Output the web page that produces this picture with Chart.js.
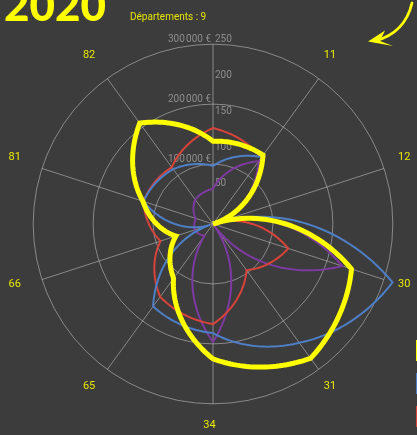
<!DOCTYPE html>
<html>
<head>
<meta charset="utf-8">
<script src="https://cdn.jsdelivr.net/npm/chart.js@4/dist/chart.umd.min.js"></script>
<style>
html, body { margin: 0; padding: 0; background: #3c3c3c; overflow: hidden; width: 417px; height: 435px; }
#wrap { position: absolute; left: 0; top: 0; width: 417px; height: 435px; }
#head { position: absolute; left: 0; top: 0; pointer-events: none; }
#legend { position: absolute; left: 416px; top: 340px; }
#legend div { width: 30px; height: 21px; margin-bottom: 12px; }
</style>
</head>
<body>
<div id="wrap"><canvas id="chart-radar" width="417" height="435"></canvas></div>
<svg id="head" width="417" height="60">
  <text x="4" y="20.5" font-family="Lato, Roboto, sans-serif" font-weight="900" font-size="44" fill="#ffff00">2020</text>
  <text x="130" y="19.5" font-family="Roboto, sans-serif" font-size="10" fill="#e6e600">Départements : 9</text>
  <path d="M412,3 Q405,33 375,41" fill="none" stroke="#ffff00" stroke-width="2.8" stroke-linecap="round"/>
  <polygon points="368,41.5 385,30.5 380,41 393,46" fill="#ffff00"/>
</svg>
<div id="legend"></div>
<script>
// départements (axe du haut sans libellé)
const depts = ['', '11', '12', '30', '31', '34', '65', '66', '81', '82'];

// montants en euros
const serieJaune = [138000, 142000, 0, 243000, 277000, 225000, 112000, 65000, 123000, 208000];
const serieBleue = [97000, 138000, 0, 315000, 245000, 182000, 170000, 5000, 122000, 113000];
const serieRouge = [160000, 137000, 0, 132000, 95000, 167000, 150000, 92000, 122000, 117000];
// nombre
const serieViolette = [49, 108, 0, 189, 0, 164, 20, 27, 25, 42];

const euroTicks = [0, 100000, 200000, 300000];
const countTicks = [0, 50, 100, 150, 200, 250];

const gridColor = 'rgba(200,200,200,0.55)';
const tickColor = '#8e8e8e';
const labelColor = '#e8e800';

function euro(v) {
    return String(v).replace(/\B(?=(\d{3})+(?!\d))/g, '\u202f') + '\u00a0€';
}

// lines drawn with the radius interpolated along the angle
const polarLines = {
    id: 'polarLines',
    beforeDatasetDraw(chart, args) {
        const ds = chart.data.datasets[args.index];
        const scale = chart.scales[ds.rAxisID];
        const ctx = chart.ctx;
        const n = ds.data.length;
        const steps = 30;
        ctx.save();
        ctx.beginPath();
        for (let i = 0; i < n; i++) {
            const d0 = scale.getDistanceFromCenterForValue(ds.data[i]);
            const d1 = scale.getDistanceFromCenterForValue(ds.data[(i + 1) % n]);
            for (let s = 0; s < steps; s++) {
                const t = s / steps;
                const p = scale.getPointPosition(i + t, d0 + (d1 - d0) * t);
                if (i === 0 && s === 0) ctx.moveTo(p.x, p.y);
                else ctx.lineTo(p.x, p.y);
            }
        }
        ctx.closePath();
        ctx.strokeStyle = ds.borderColor;
        ctx.lineWidth = ds.borderWidth;
        ctx.lineJoin = 'miter';
        ctx.stroke();
        ctx.restore();
        return false;
    }
};

// tick texts (euros left of the axis, counts right) and centred department labels
const axisTexts = {
    id: 'axisTexts',
    beforeDatasetsDraw(chart) {
        const ctx = chart.ctx;
        const r = chart.scales.r;
        const r2 = chart.scales.r2;
        ctx.save();
        ctx.font = '10px Roboto';
        ctx.fillStyle = tickColor;
        ctx.textBaseline = 'middle';
        ctx.textAlign = 'right';
        euroTicks.forEach(v => {
            if (v === 0) return;
            ctx.fillText(euro(v), r.xCenter - 2, r.yCenter - r.getDistanceFromCenterForValue(v) - 5);
        });
        ctx.textAlign = 'left';
        countTicks.forEach(v => {
            if (v === 0) return;
            ctx.fillText(String(v), r2.xCenter + 2, r2.yCenter - r2.getDistanceFromCenterForValue(v) - 5);
        });

        ctx.font = '11px Roboto';
        ctx.fillStyle = labelColor;
        ctx.textAlign = 'center';
        depts.forEach((d, i) => {
            const p = r.getPointPosition(i, r.drawingArea + 25);
            ctx.fillText(d, p.x - 3.5, p.y - 3.5);
        });
        ctx.restore();
    }
};

const datasets = [
    { label: 'Montant total', data: serieJaune, borderColor: '#ffff00', borderWidth: 5, rAxisID: 'r' },
    { label: 'Montant moyen', data: serieBleue, borderColor: '#4e7fc6', borderWidth: 2, rAxisID: 'r' },
    { label: 'Montant médian', data: serieRouge, borderColor: '#d8433a', borderWidth: 2, rAxisID: 'r' },
    { label: 'Nombre', data: serieViolette, borderColor: '#7d3aa0', borderWidth: 2, rAxisID: 'r2' }
];
datasets.forEach(d => { d.fill = false; d.pointRadius = 0; d.backgroundColor = d.borderColor; });

// point labels kept for the layout only, drawn by axisTexts
const pointLabelFont = { family: 'Roboto', size: 11 };

let myChart = new Chart(document.getElementById('chart-radar').getContext('2d'), {
    type: 'radar',
    data: { labels: depts, datasets: datasets },
    plugins: [polarLines, axisTexts],
    options: {
        responsive: false,
        animation: false,
        layout: { padding: { left: 9, right: 0, top: 16, bottom: 3 } },
        plugins: { legend: { display: false }, tooltip: { enabled: false } },
        scales: {
            r: {
                min: 0, max: 300000,
                ticks: { display: false, stepSize: 100000 },
                grid: { color: gridColor, circular: true, lineWidth: 1 },
                angleLines: { color: gridColor, lineWidth: 1 },
                pointLabels: { color: 'rgba(0,0,0,0)', font: pointLabelFont, padding: 15 }
            },
            r2: {
                type: 'radialLinear',
                min: 0, max: 250,
                ticks: { display: false, stepSize: 50 },
                grid: { display: false },
                angleLines: { display: false },
                pointLabels: { color: 'rgba(0,0,0,0)', font: pointLabelFont, padding: 15 }
            }
        }
    }
});

// legend boxes (texts fall outside the frame)
const legend = document.getElementById('legend');
datasets.forEach(d => {
    const box = document.createElement('div');
    box.style.background = d.borderColor;
    box.title = d.label;
    legend.appendChild(box);
});
</script>
</body>
</html>
